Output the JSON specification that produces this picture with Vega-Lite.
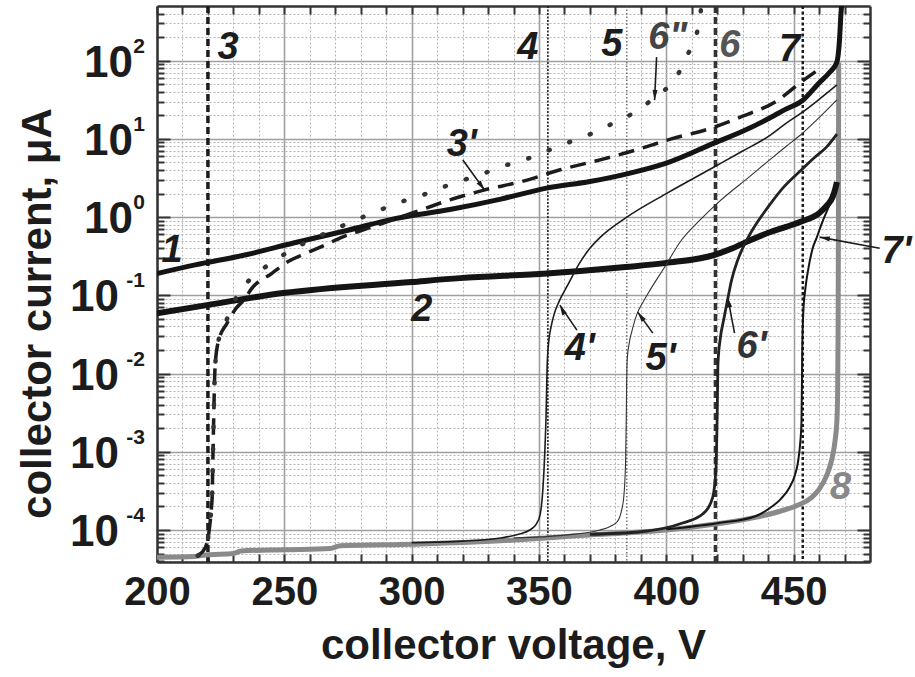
{
"$schema": "https://vega.github.io/schema/vega-lite/v6.json",
"width": 713, "height": 556,
"autosize": {"type": "none"},
"padding": {"left": 157, "top": 6, "right": 45, "bottom": 115},
"background": "white",
"config": {"view": {"stroke": null}, "font": "Liberation Sans"},
"datasets": {
"curves": [
{"c":"c8","V":200,"I":4.5e-5},{"c":"c8","V":215,"I":4.6e-5},{"c":"c8","V":219,"I":4.8e-5},{"c":"c8","V":230,"I":5.0e-5},{"c":"c8","V":233,"I":5.4e-5},{"c":"c8","V":250,"I":5.6e-5},{"c":"c8","V":268,"I":5.8e-5},{"c":"c8","V":272,"I":6.3e-5},{"c":"c8","V":300,"I":6.6e-5},{"c":"c8","V":320,"I":6.9e-5},{"c":"c8","V":345,"I":7.6e-5},{"c":"c8","V":366,"I":8.5e-5},{"c":"c8","V":385,"I":9.2e-5},{"c":"c8","V":400,"I":1.0e-4},{"c":"c8","V":420,"I":1.2e-4},{"c":"c8","V":435,"I":1.45e-4},{"c":"c8","V":445,"I":1.75e-4},{"c":"c8","V":452,"I":2.1e-4},{"c":"c8","V":457,"I":2.6e-4},{"c":"c8","V":460,"I":3.3e-4},{"c":"c8","V":463,"I":5e-4},{"c":"c8","V":465,"I":8e-4},{"c":"c8","V":466.3,"I":1.4e-3},{"c":"c8","V":467,"I":2.5e-3},{"c":"c8","V":467.3,"I":6e-3},{"c":"c8","V":467.5,"I":0.05},{"c":"c8","V":467.6,"I":1},{"c":"c8","V":467.7,"I":95},
{"c":"c1","V":200,"I":0.19},{"c":"c1","V":215,"I":0.245},{"c":"c1","V":235,"I":0.33},{"c":"c1","V":254,"I":0.47},{"c":"c1","V":275,"I":0.68},{"c":"c1","V":293,"I":0.95},{"c":"c1","V":315,"I":1.25},{"c":"c1","V":335,"I":1.7},{"c":"c1","V":353,"I":2.35},{"c":"c1","V":370,"I":2.85},{"c":"c1","V":385,"I":3.6},{"c":"c1","V":400,"I":4.9},{"c":"c1","V":419,"I":8.9},{"c":"c1","V":430,"I":12.5},{"c":"c1","V":440.6,"I":18.5},{"c":"c1","V":447,"I":24},{"c":"c1","V":453.5,"I":31},{"c":"c1","V":460,"I":52},{"c":"c1","V":464,"I":70},{"c":"c1","V":467,"I":96},{"c":"c1","V":468,"I":180},{"c":"c1","V":468.6,"I":400},{"c":"c1","V":469,"I":600},
{"c":"c2","V":200,"I":0.059},{"c":"c2","V":219.6,"I":0.075},{"c":"c2","V":249.5,"I":0.107},{"c":"c2","V":300,"I":0.148},{"c":"c2","V":319,"I":0.166},{"c":"c2","V":353,"I":0.19},{"c":"c2","V":384,"I":0.23},{"c":"c2","V":400,"I":0.26},{"c":"c2","V":419,"I":0.33},{"c":"c2","V":426,"I":0.4},{"c":"c2","V":432.5,"I":0.5},{"c":"c2","V":440.6,"I":0.64},{"c":"c2","V":447,"I":0.75},{"c":"c2","V":453,"I":0.88},{"c":"c2","V":460,"I":1.12},{"c":"c2","V":463,"I":1.4},{"c":"c2","V":465.3,"I":1.8},{"c":"c2","V":466.5,"I":2.4},{"c":"c2","V":467,"I":2.8},
{"c":"c3p","V":216,"I":4.7e-5},{"c":"c3p","V":219,"I":6e-5},{"c":"c3p","V":221.6,"I":2.4e-4},{"c":"c3p","V":222,"I":1e-3},{"c":"c3p","V":222.8,"I":0.012},{"c":"c3p","V":224,"I":0.025},{"c":"c3p","V":227.5,"I":0.044},{"c":"c3p","V":231,"I":0.068},{"c":"c3p","V":234.5,"I":0.09},{"c":"c3p","V":237,"I":0.12},{"c":"c3p","V":245,"I":0.19},{"c":"c3p","V":251.5,"I":0.27},{"c":"c3p","V":259,"I":0.35},{"c":"c3p","V":266,"I":0.44},{"c":"c3p","V":273,"I":0.56},{"c":"c3p","V":280.5,"I":0.68},{"c":"c3p","V":300,"I":1.12},{"c":"c3p","V":315,"I":1.66},{"c":"c3p","V":328,"I":2.2},{"c":"c3p","V":345,"I":2.95},{"c":"c3p","V":358,"I":4.0},{"c":"c3p","V":374,"I":5.4},{"c":"c3p","V":388,"I":7.2},{"c":"c3p","V":402,"I":10},{"c":"c3p","V":417,"I":13.5},{"c":"c3p","V":430,"I":19.5},{"c":"c3p","V":443,"I":30},{"c":"c3p","V":453.5,"I":55},{"c":"c3p","V":461,"I":82},
{"c":"c6pp","V":216,"I":4.7e-5},{"c":"c6pp","V":219,"I":6e-5},{"c":"c6pp","V":221.6,"I":2.4e-4},{"c":"c6pp","V":222,"I":1e-3},{"c":"c6pp","V":222.8,"I":0.012},{"c":"c6pp","V":224,"I":0.025},{"c":"c6pp","V":227.5,"I":0.05},{"c":"c6pp","V":230.6,"I":0.087},{"c":"c6pp","V":236.5,"I":0.16},{"c":"c6pp","V":245,"I":0.26},{"c":"c6pp","V":253.4,"I":0.39},{"c":"c6pp","V":262,"I":0.54},{"c":"c6pp","V":270.6,"I":0.72},{"c":"c6pp","V":278.5,"I":0.93},{"c":"c6pp","V":286.7,"I":1.2},{"c":"c6pp","V":295.4,"I":1.55},{"c":"c6pp","V":304,"I":1.9},{"c":"c6pp","V":312,"I":2.4},{"c":"c6pp","V":320,"I":2.95},{"c":"c6pp","V":328,"I":3.6},{"c":"c6pp","V":337,"I":4.6},{"c":"c6pp","V":345.6,"I":5.6},{"c":"c6pp","V":354,"I":7.2},{"c":"c6pp","V":362,"I":9.1},{"c":"c6pp","V":370.7,"I":11.7},{"c":"c6pp","V":379,"I":15.8},{"c":"c6pp","V":387.6,"I":21.9},{"c":"c6pp","V":395.4,"I":33.9},{"c":"c6pp","V":404,"I":62},{"c":"c6pp","V":408.4,"I":120},{"c":"c6pp","V":412,"I":224},{"c":"c6pp","V":413.5,"I":420},{"c":"c6pp","V":414,"I":600},
{"c":"c4p","V":300,"I":6.9e-5},{"c":"c4p","V":320,"I":7.2e-5},{"c":"c4p","V":335,"I":7.9e-5},{"c":"c4p","V":342,"I":8.8e-5},{"c":"c4p","V":346.4,"I":1.0e-4},{"c":"c4p","V":349,"I":1.2e-4},{"c":"c4p","V":350.5,"I":1.6e-4},{"c":"c4p","V":351.5,"I":3.2e-4},{"c":"c4p","V":352.3,"I":1e-3},{"c":"c4p","V":352.8,"I":3e-3},{"c":"c4p","V":353.2,"I":0.012},{"c":"c4p","V":353.8,"I":0.025},{"c":"c4p","V":354.8,"I":0.04},{"c":"c4p","V":356,"I":0.058},{"c":"c4p","V":358,"I":0.085},{"c":"c4p","V":361,"I":0.13},{"c":"c4p","V":366,"I":0.26},{"c":"c4p","V":370,"I":0.4},{"c":"c4p","V":374,"I":0.55},{"c":"c4p","V":384.5,"I":1.0},{"c":"c4p","V":400,"I":2.0},{"c":"c4p","V":420,"I":4.6},{"c":"c4p","V":430,"I":7.0},{"c":"c4p","V":440.6,"I":11},{"c":"c4p","V":447,"I":15.8},{"c":"c4p","V":453.5,"I":22},{"c":"c4p","V":460,"I":32},{"c":"c4p","V":467,"I":49},
{"c":"c5p","V":340,"I":7.9e-5},{"c":"c5p","V":360,"I":8.6e-5},{"c":"c5p","V":374,"I":1.0e-4},{"c":"c5p","V":380.5,"I":1.25e-4},{"c":"c5p","V":383,"I":2.2e-4},{"c":"c5p","V":384,"I":7e-4},{"c":"c5p","V":384.3,"I":3e-3},{"c":"c5p","V":384.6,"I":0.014},{"c":"c5p","V":385.5,"I":0.025},{"c":"c5p","V":386.6,"I":0.036},{"c":"c5p","V":388.5,"I":0.058},{"c":"c5p","V":390.5,"I":0.078},{"c":"c5p","V":393.5,"I":0.115},{"c":"c5p","V":399,"I":0.22},{"c":"c5p","V":406,"I":0.51},{"c":"c5p","V":413,"I":0.9},{"c":"c5p","V":420,"I":1.5},{"c":"c5p","V":432.7,"I":3.3},{"c":"c5p","V":440.6,"I":5.4},{"c":"c5p","V":447,"I":8},{"c":"c5p","V":453.5,"I":11.8},{"c":"c5p","V":459,"I":17.4},{"c":"c5p","V":467,"I":31.6},
{"c":"c6p","V":370,"I":8.8e-5},{"c":"c6p","V":390,"I":9.5e-5},{"c":"c6p","V":406.4,"I":1.23e-4},{"c":"c6p","V":414.3,"I":1.6e-4},{"c":"c6p","V":418.2,"I":2.6e-4},{"c":"c6p","V":419.5,"I":6e-4},{"c":"c6p","V":420,"I":3e-3},{"c":"c6p","V":420.3,"I":0.0135},{"c":"c6p","V":421.2,"I":0.028},{"c":"c6p","V":422.5,"I":0.048},{"c":"c6p","V":424,"I":0.085},{"c":"c6p","V":425.5,"I":0.15},{"c":"c6p","V":428,"I":0.28},{"c":"c6p","V":430,"I":0.4},{"c":"c6p","V":434,"I":0.7},{"c":"c6p","V":440,"I":1.35},{"c":"c6p","V":446,"I":2.4},{"c":"c6p","V":453,"I":4},{"c":"c6p","V":458,"I":5.7},{"c":"c6p","V":463,"I":7.9},{"c":"c6p","V":467,"I":11.5},
{"c":"c7p","V":400,"I":1.02e-4},{"c":"c7p","V":420,"I":1.22e-4},{"c":"c7p","V":435,"I":1.5e-4},{"c":"c7p","V":440.6,"I":1.9e-4},{"c":"c7p","V":445,"I":2.5e-4},{"c":"c7p","V":448.4,"I":3.5e-4},{"c":"c7p","V":450.5,"I":5e-4},{"c":"c7p","V":451.6,"I":7e-4},{"c":"c7p","V":452.5,"I":1.2e-3},{"c":"c7p","V":453.1,"I":2.5e-3},{"c":"c7p","V":453.4,"I":0.02},{"c":"c7p","V":453.8,"I":0.06},{"c":"c7p","V":454.6,"I":0.12},{"c":"c7p","V":455.8,"I":0.22},{"c":"c7p","V":457.5,"I":0.4},{"c":"c7p","V":459,"I":0.54},{"c":"c7p","V":461.5,"I":0.9},{"c":"c7p","V":464,"I":1.4},{"c":"c7p","V":466,"I":2.0},{"c":"c7p","V":467,"I":2.8}
],
"vlines": [{"n":"3","V":220},{"n":"4","V":353.5},{"n":"5","V":384.5},{"n":"6","V":419.3},{"n":"7","V":453.6}],
"labels": [
{"t":"1","V":205.9,"I":0.367},{"t":"2","V":304,"I":0.065},{"t":"3","V":227.9,"I":145},{"t":"3'","V":319.7,"I":8.3},{"t":"4","V":345.6,"I":145},{"t":"5","V":378.6,"I":158},{"t":"6\"","V":400.6,"I":195},{"t":"6","V":424.9,"I":154},{"t":"7","V":448.4,"I":137},{"t":"4'","V":366,"I":0.0205},{"t":"5'","V":397.8,"I":0.0153},{"t":"6'","V":433.5,"I":0.0218},{"t":"7'","V":490.4,"I":0.356},{"t":"8","V":468.4,"I":0.00034}
],
"arrows": [
{"a":"3p","V":320.1,"I":5.36,"V2":328.7,"I2":2.21},
{"a":"6pp","V":396.2,"I":111,"V2":395.4,"I2":31.3},
{"a":"4p","V":364.9,"I":0.0359,"V2":358.2,"I2":0.075},
{"a":"5p","V":394.7,"I":0.0329,"V2":388.8,"I2":0.061},
{"a":"6p","V":426.8,"I":0.0329,"V2":424.1,"I2":0.0948},
{"a":"7p","V":483.8,"I":0.40,"V2":460.2,"I2":0.555}
],
"yexp": [{"v":100,"e":"2"},{"v":10,"e":"1"},{"v":1,"e":"0"},{"v":0.1,"e":"-1"},{"v":0.01,"e":"-2"},{"v":0.001,"e":"-3"},{"v":0.0001,"e":"-4"}]
},
"layer": [
{"data":{"name":"yexp"},"mark":{"type":"point","opacity":0},
 "encoding":{
  "x":{"datum":300,"type":"quantitative","scale":{"domain":[200,480],"nice":false,"zero":false},
   "axis":{"orient":"bottom","values":[200,210,220,230,240,250,260,270,280,290,300,310,320,330,340,350,360,370,380,390,400,410,420,430,440,450,460,470],"grid":true,"gridColor":"#b5b5b5","gridDash":[2,2],"gridWidth":1,"gridOpacity":{"condition":{"test":"datum.value % 50 === 0","value":0},"value":1},"ticks":true,"tickSize":-8,"tickColor":"#333","tickWidth":2,"labels":false,"domain":false,"title":null}},
  "y":{"field":"v","type":"quantitative","scale":{"type":"log","domain":[3.9e-5,500],"nice":false},
   "axis":{"orient":"left","values":[4e-5,5e-5,6e-5,7e-5,8e-5,9e-5,1e-4,2e-4,3e-4,4e-4,5e-4,6e-4,7e-4,8e-4,9e-4,1e-3,2e-3,3e-3,4e-3,5e-3,6e-3,7e-3,8e-3,9e-3,0.01,0.02,0.03,0.04,0.05,0.06,0.07,0.08,0.09,0.1,0.2,0.3,0.4,0.5,0.6,0.7,0.8,0.9,1,2,3,4,5,6,7,8,9,10,20,30,40,50,60,70,80,90,100,200,300,400],"grid":true,"gridColor":"#b5b5b5","gridDash":[2,2],"gridWidth":1,"gridOpacity":{"condition":{"test":"abs(log(datum.value)/LN10 - round(log(datum.value)/LN10)) < 0.001","value":0},"value":1},"ticks":true,"tickSize":{"condition":{"test":"abs(log(datum.value)/LN10 - round(log(datum.value)/LN10)) < 0.001","value":-13},"value":-7},"tickColor":"#333","tickWidth":2,"labels":false,"domain":false,"title":null}}
 }},
{"data":{"name":"yexp"},"mark":{"type":"point","opacity":0},
 "encoding":{
  "x":{"datum":300,"type":"quantitative","scale":{"domain":[200,480],"nice":false,"zero":false},
   "axis":{"orient":"top","values":[200,210,220,230,240,250,260,270,280,290,300,310,320,330,340,350,360,370,380,390,400,410,420,430,440,450,460,470],"grid":false,"ticks":true,"tickSize":-8,"tickColor":"#333","tickWidth":2,"labels":false,"domain":true,"domainColor":"#333","domainWidth":2.5,"title":null}},
  "y":{"field":"v","type":"quantitative","scale":{"type":"log","domain":[3.9e-5,500],"nice":false},
   "axis":{"orient":"right","values":[4e-5,5e-5,6e-5,7e-5,8e-5,9e-5,1e-4,2e-4,3e-4,4e-4,5e-4,6e-4,7e-4,8e-4,9e-4,1e-3,2e-3,3e-3,4e-3,5e-3,6e-3,7e-3,8e-3,9e-3,0.01,0.02,0.03,0.04,0.05,0.06,0.07,0.08,0.09,0.1,0.2,0.3,0.4,0.5,0.6,0.7,0.8,0.9,1,2,3,4,5,6,7,8,9,10,20,30,40,50,60,70,80,90,100,200,300,400],"grid":false,"ticks":true,"tickSize":{"condition":{"test":"abs(log(datum.value)/LN10 - round(log(datum.value)/LN10)) < 0.001","value":-13},"value":-7},"tickColor":"#333","tickWidth":2,"labels":false,"domain":true,"domainColor":"#333","domainWidth":2.5,"title":null}}
 }},
{"data":{"name":"yexp"},"mark":{"type":"point","opacity":0},
 "encoding":{
  "x":{"datum":300,"type":"quantitative","scale":{"domain":[200,480],"nice":false,"zero":false},
   "axis":{"orient":"bottom","values":[200,250,300,350,400,450],"grid":true,"gridColor":"#a0a0a0","gridWidth":1.6,"ticks":false,"domain":true,"domainColor":"#333","domainWidth":2.5,"labelFont":"Liberation Sans","labelFontWeight":"bold","labelFontSize":40,"labelColor":"#1c1c1c","labelPadding":10,"labelBaseline":"top","labelFlush":false,"labelOverlap":false,"title":"collector voltage, V","titleFont":"Liberation Sans","titleFontWeight":"bold","titleFontSize":42,"titleColor":"#1c1c1c","titleX":356,"titleY":96,"titleBaseline":"alphabetic","titleAlign":"center"}},
  "y":{"field":"v","type":"quantitative","scale":{"type":"log","domain":[3.9e-5,500],"nice":false},
   "axis":{"orient":"left","values":[0.0001,0.001,0.01,0.1,1,10,100],"grid":true,"gridColor":"#a0a0a0","gridWidth":1.6,"ticks":false,"domain":true,"domainColor":"#333","domainWidth":2.5,"labels":false,"title":"collector current, μA","titleFont":"Liberation Sans","titleFontWeight":"bold","titleFontSize":42,"titleColor":"#1c1c1c","titleAngle":-90,"titleX":-107,"titleY":307,"titleAlign":"center","titleBaseline":"alphabetic"}}
 }},
{"data":{"name":"vlines"},"transform":[{"filter":"datum.n === '3'"}],"mark":{"type":"rule","color":"#1c1c1c","strokeWidth":3.5,"strokeDash":[7,4]},"encoding":{"x":{"field":"V","type":"quantitative","scale":{"domain":[200,480],"nice":false,"zero":false},"axis":null}}},
{"data":{"name":"vlines"},"transform":[{"filter":"datum.n === '4'"}],"mark":{"type":"rule","color":"#1c1c1c","strokeWidth":1.6,"strokeDash":[2,1.5]},"encoding":{"x":{"field":"V","type":"quantitative","scale":{"domain":[200,480],"nice":false,"zero":false},"axis":null}}},
{"data":{"name":"vlines"},"transform":[{"filter":"datum.n === '5'"}],"mark":{"type":"rule","color":"#555555","strokeWidth":1.2,"strokeDash":[1.5,2]},"encoding":{"x":{"field":"V","type":"quantitative","scale":{"domain":[200,480],"nice":false,"zero":false},"axis":null}}},
{"data":{"name":"vlines"},"transform":[{"filter":"datum.n === '6'"}],"mark":{"type":"rule","color":"#333333","strokeWidth":3.5,"strokeDash":[7,4]},"encoding":{"x":{"field":"V","type":"quantitative","scale":{"domain":[200,480],"nice":false,"zero":false},"axis":null}}},
{"data":{"name":"vlines"},"transform":[{"filter":"datum.n === '7'"}],"mark":{"type":"rule","color":"#1c1c1c","strokeWidth":2.5,"strokeDash":[3,2.5]},"encoding":{"x":{"field":"V","type":"quantitative","scale":{"domain":[200,480],"nice":false,"zero":false},"axis":null}}},
{"data":{"name":"curves"},"transform":[{"filter":"datum.c === 'c8'"}],"mark":{"type":"line","color":"#8a8a8a","strokeWidth":5,"interpolate":"monotone","clip":true},"encoding":{"x":{"field":"V","type":"quantitative","scale":{"domain":[200,480],"nice":false,"zero":false},"axis":null},"y":{"field":"I","type":"quantitative","scale":{"type":"log","domain":[3.9e-5,500],"nice":false},"axis":null}}},
{"data":{"name":"curves"},"transform":[{"filter":"datum.c === 'c2'"}],"mark":{"type":"line","color":"#141414","strokeWidth":6,"interpolate":"monotone","clip":true},"encoding":{"x":{"field":"V","type":"quantitative","scale":{"domain":[200,480],"nice":false,"zero":false},"axis":null},"y":{"field":"I","type":"quantitative","scale":{"type":"log","domain":[3.9e-5,500],"nice":false},"axis":null}}},
{"data":{"name":"curves"},"transform":[{"filter":"datum.c === 'c1'"}],"mark":{"type":"line","color":"#141414","strokeWidth":5,"interpolate":"monotone","clip":true},"encoding":{"x":{"field":"V","type":"quantitative","scale":{"domain":[200,480],"nice":false,"zero":false},"axis":null},"y":{"field":"I","type":"quantitative","scale":{"type":"log","domain":[3.9e-5,500],"nice":false},"axis":null}}},
{"data":{"name":"curves"},"transform":[{"filter":"datum.c === 'c3p'"}],"mark":{"type":"line","color":"#1c1c1c","strokeWidth":3.5,"strokeDash":[16,9],"interpolate":"monotone","clip":true},"encoding":{"x":{"field":"V","type":"quantitative","scale":{"domain":[200,480],"nice":false,"zero":false},"axis":null},"y":{"field":"I","type":"quantitative","scale":{"type":"log","domain":[3.9e-5,500],"nice":false},"axis":null}}},
{"data":{"name":"curves"},"transform":[{"filter":"datum.c === 'c6pp'"}],"mark":{"type":"line","color":"#333333","strokeWidth":4.5,"strokeDash":[1,21],"strokeCap":"round","interpolate":"monotone","clip":true},"encoding":{"x":{"field":"V","type":"quantitative","scale":{"domain":[200,480],"nice":false,"zero":false},"axis":null},"y":{"field":"I","type":"quantitative","scale":{"type":"log","domain":[3.9e-5,500],"nice":false},"axis":null}}},
{"data":{"name":"curves"},"transform":[{"filter":"datum.c === 'c4p'"}],"mark":{"type":"line","color":"#1c1c1c","strokeWidth":1.6,"interpolate":"monotone","clip":true},"encoding":{"x":{"field":"V","type":"quantitative","scale":{"domain":[200,480],"nice":false,"zero":false},"axis":null},"y":{"field":"I","type":"quantitative","scale":{"type":"log","domain":[3.9e-5,500],"nice":false},"axis":null}}},
{"data":{"name":"curves"},"transform":[{"filter":"datum.c === 'c5p'"}],"mark":{"type":"line","color":"#333333","strokeWidth":1.1,"interpolate":"monotone","clip":true},"encoding":{"x":{"field":"V","type":"quantitative","scale":{"domain":[200,480],"nice":false,"zero":false},"axis":null},"y":{"field":"I","type":"quantitative","scale":{"type":"log","domain":[3.9e-5,500],"nice":false},"axis":null}}},
{"data":{"name":"curves"},"transform":[{"filter":"datum.c === 'c6p'"}],"mark":{"type":"line","color":"#222222","strokeWidth":2.8,"interpolate":"monotone","clip":true},"encoding":{"x":{"field":"V","type":"quantitative","scale":{"domain":[200,480],"nice":false,"zero":false},"axis":null},"y":{"field":"I","type":"quantitative","scale":{"type":"log","domain":[3.9e-5,500],"nice":false},"axis":null}}},
{"data":{"name":"curves"},"transform":[{"filter":"datum.c === 'c7p'"}],"mark":{"type":"line","color":"#141414","strokeWidth":2,"interpolate":"monotone","clip":true},"encoding":{"x":{"field":"V","type":"quantitative","scale":{"domain":[200,480],"nice":false,"zero":false},"axis":null},"y":{"field":"I","type":"quantitative","scale":{"type":"log","domain":[3.9e-5,500],"nice":false},"axis":null}}},
{"data":{"name":"arrows"},"mark":{"type":"rule","color":"#1c1c1c","strokeWidth":1.6},"encoding":{"x":{"field":"V","type":"quantitative","scale":{"domain":[200,480],"nice":false,"zero":false},"axis":null},"y":{"field":"I","type":"quantitative","scale":{"type":"log","domain":[3.9e-5,500],"nice":false},"axis":null},"x2":{"field":"V2"},"y2":{"field":"I2"}}},
{"data":{"name":"arrows"},"transform":[{"filter":"datum.a === '3p'"}],"mark":{"type":"point","shape":"M0,0L-0.45,1.8L0.45,1.8Z","filled":true,"size":130,"angle":143.7,"color":"#1c1c1c","opacity":1},"encoding":{"x":{"field":"V2","type":"quantitative","scale":{"domain":[200,480],"nice":false,"zero":false},"axis":null},"y":{"field":"I2","type":"quantitative","scale":{"type":"log","domain":[3.9e-5,500],"nice":false},"axis":null}}},
{"data":{"name":"arrows"},"transform":[{"filter":"datum.a === '6pp'"}],"mark":{"type":"point","shape":"M0,0L-0.45,1.8L0.45,1.8Z","filled":true,"size":130,"angle":182.7,"color":"#1c1c1c","opacity":1},"encoding":{"x":{"field":"V2","type":"quantitative","scale":{"domain":[200,480],"nice":false,"zero":false},"axis":null},"y":{"field":"I2","type":"quantitative","scale":{"type":"log","domain":[3.9e-5,500],"nice":false},"axis":null}}},
{"data":{"name":"arrows"},"transform":[{"filter":"datum.a === '4p'"}],"mark":{"type":"point","shape":"M0,0L-0.45,1.8L0.45,1.8Z","filled":true,"size":130,"angle":-27.4,"color":"#1c1c1c","opacity":1},"encoding":{"x":{"field":"V2","type":"quantitative","scale":{"domain":[200,480],"nice":false,"zero":false},"axis":null},"y":{"field":"I2","type":"quantitative","scale":{"type":"log","domain":[3.9e-5,500],"nice":false},"axis":null}}},
{"data":{"name":"arrows"},"transform":[{"filter":"datum.a === '5p'"}],"mark":{"type":"point","shape":"M0,0L-0.45,1.8L0.45,1.8Z","filled":true,"size":130,"angle":-35.5,"color":"#1c1c1c","opacity":1},"encoding":{"x":{"field":"V2","type":"quantitative","scale":{"domain":[200,480],"nice":false,"zero":false},"axis":null},"y":{"field":"I2","type":"quantitative","scale":{"type":"log","domain":[3.9e-5,500],"nice":false},"axis":null}}},
{"data":{"name":"arrows"},"transform":[{"filter":"datum.a === '6p'"}],"mark":{"type":"point","shape":"M0,0L-0.45,1.8L0.45,1.8Z","filled":true,"size":130,"angle":-11,"color":"#1c1c1c","opacity":1},"encoding":{"x":{"field":"V2","type":"quantitative","scale":{"domain":[200,480],"nice":false,"zero":false},"axis":null},"y":{"field":"I2","type":"quantitative","scale":{"type":"log","domain":[3.9e-5,500],"nice":false},"axis":null}}},
{"data":{"name":"arrows"},"transform":[{"filter":"datum.a === '7p'"}],"mark":{"type":"point","shape":"M0,0L-0.45,1.8L0.45,1.8Z","filled":true,"size":130,"angle":-79.6,"color":"#1c1c1c","opacity":1},"encoding":{"x":{"field":"V2","type":"quantitative","scale":{"domain":[200,480],"nice":false,"zero":false},"axis":null},"y":{"field":"I2","type":"quantitative","scale":{"type":"log","domain":[3.9e-5,500],"nice":false},"axis":null}}},
{"data":{"name":"labels"},"mark":{"type":"text","font":"Liberation Sans","fontWeight":"bold","fontStyle":"italic","fontSize":38,"align":"center","baseline":"middle"},"encoding":{"x":{"field":"V","type":"quantitative","scale":{"domain":[200,480],"nice":false,"zero":false},"axis":null},"y":{"field":"I","type":"quantitative","scale":{"type":"log","domain":[3.9e-5,500],"nice":false},"axis":null},"text":{"field":"t"},"color":{"field":"t","type":"nominal","legend":null,"scale":{"domain":["1","2","3","3'","4","5","6\"","6","7","4'","5'","6'","7'","8"],"range":["#1c1c1c","#1c1c1c","#1c1c1c","#1c1c1c","#1c1c1c","#1c1c1c","#444444","#555555","#1c1c1c","#1c1c1c","#1c1c1c","#333333","#1c1c1c","#888888"]}}}},
{"data":{"name":"yexp"},"transform":[{"filter":"datum.v >= 1"}],"mark":{"type":"text","font":"Liberation Sans","fontWeight":"bold","fontSize":44,"align":"right","baseline":"middle","dx":-24,"dy":3,"color":"#1c1c1c"},"encoding":{"x":{"datum":200,"type":"quantitative","scale":{"domain":[200,480],"nice":false,"zero":false},"axis":null},"y":{"field":"v","type":"quantitative","scale":{"type":"log","domain":[3.9e-5,500],"nice":false},"axis":null},"text":{"value":"10"}}},
{"data":{"name":"yexp"},"transform":[{"filter":"datum.v < 1"}],"mark":{"type":"text","font":"Liberation Sans","fontWeight":"bold","fontSize":44,"align":"right","baseline":"middle","dx":-38,"dy":3,"color":"#1c1c1c"},"encoding":{"x":{"datum":200,"type":"quantitative","scale":{"domain":[200,480],"nice":false,"zero":false},"axis":null},"y":{"field":"v","type":"quantitative","scale":{"type":"log","domain":[3.9e-5,500],"nice":false},"axis":null},"text":{"value":"10"}}},
{"data":{"name":"yexp"},"mark":{"type":"text","font":"Liberation Sans","fontWeight":"bold","fontSize":21,"align":"right","baseline":"alphabetic","dx":-12,"dy":-8,"color":"#1c1c1c"},"encoding":{"x":{"datum":200,"type":"quantitative","scale":{"domain":[200,480],"nice":false,"zero":false},"axis":null},"y":{"field":"v","type":"quantitative","scale":{"type":"log","domain":[3.9e-5,500],"nice":false},"axis":null},"text":{"field":"e"}}}
],
"resolve": {"axis": {"x": "independent", "y": "independent"}}
}
